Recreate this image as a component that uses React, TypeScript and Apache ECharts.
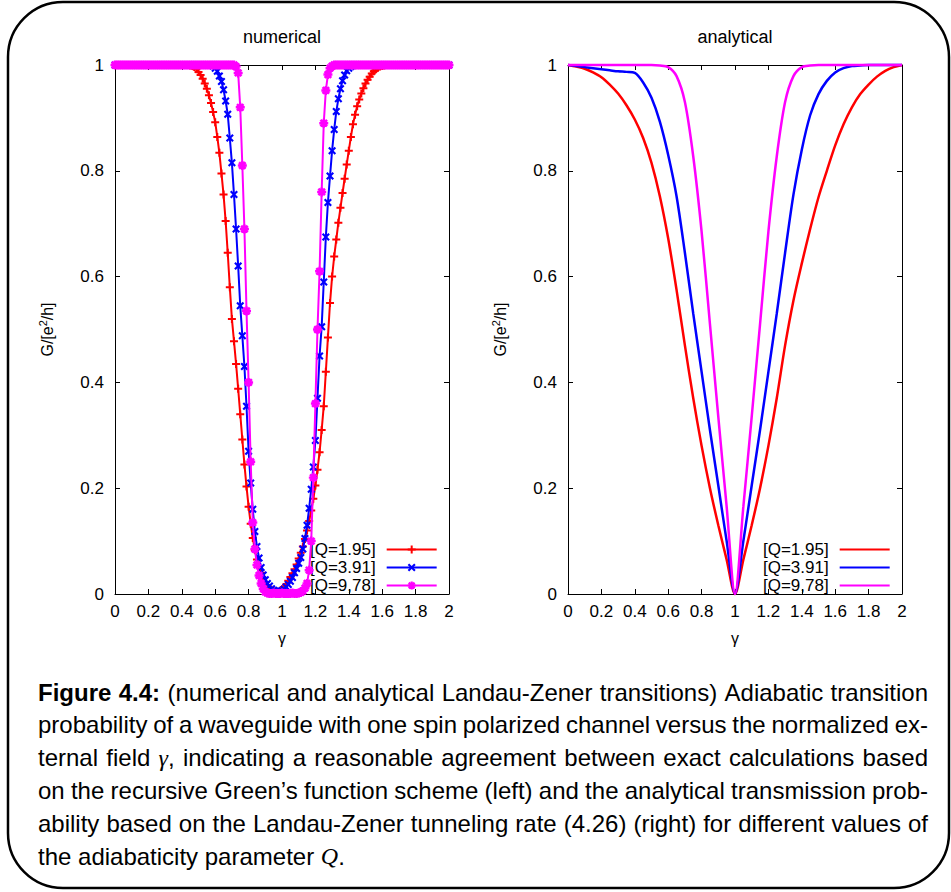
import { useEffect, useRef } from "react";
import * as echarts from "echarts";

const FONT = '"Liberation Sans", Arial, Helvetica, sans-serif';
const MATH_FONT = '"Liberation Serif", "DejaVu Serif", serif';

const PANEL_TITLES = ["numerical", "analytical"];
const Q_LABELS = ["[Q=1.95]", "[Q=3.91]", "[Q=9,78]"];
const SERIES_COLORS = ["#ff0000", "#0000ff", "#ff00ff"];
const X_AXIS_NAME = "γ";
const Y_AXIS_NAME = "{n|G/[e}{s|2}{n|/h]}";
const X_MIN = 0;
const X_MAX = 2;
const X_INTERVAL = 0.2;
const Y_MIN = 0;
const Y_MAX = 1;
const Y_INTERVAL = 0.2;

// Recursive Green's function results, one value every 0.0125 in γ (8 values per 0.1)
const NUM_STEP = 0.0125;
const NUM_Q195 = [
  1, 1, 1, 1, 1, 1, 1, 1,
  1, 1, 1, 1, 1, 1, 1, 1,
  1, 1, 1, 1, 1, 1, 1, 1,
  1, 1, 1, 1, 1, 1, 1, 1,
  1, 1, 1, 1, 0.999, 0.998, 0.996, 0.992,
  0.987, 0.981, 0.974, 0.965, 0.955, 0.943, 0.928, 0.911,
  0.892, 0.864, 0.834, 0.795, 0.755, 0.705, 0.645, 0.58,
  0.52, 0.478, 0.435, 0.388, 0.34, 0.292, 0.245, 0.203,
  0.165, 0.133, 0.106, 0.083, 0.065, 0.051, 0.04, 0.03,
  0.022, 0.016, 0.011, 0.008, 0.006, 0.004, 0.004, 0.006,
  0.009, 0.013, 0.018, 0.025, 0.032, 0.039, 0.047, 0.056,
  0.067, 0.078, 0.09, 0.104, 0.12, 0.138, 0.158, 0.18,
  0.205, 0.235, 0.268, 0.31, 0.355, 0.42, 0.485, 0.55,
  0.6, 0.638, 0.67, 0.702, 0.73, 0.758, 0.785, 0.812,
  0.838, 0.864, 0.888, 0.906, 0.922, 0.935, 0.946, 0.956,
  0.965, 0.972, 0.978, 0.984, 0.988, 0.992, 0.995, 0.997,
  0.998, 0.999, 1, 1, 1, 1, 1, 1,
  1, 1, 1, 1, 1, 1, 1, 1,
  1, 1, 1, 1, 1, 1, 1, 1,
  1, 1, 1, 1, 1, 1, 1, 1,
  1,
];
const NUM_Q391 = [
  1, 1, 1, 1, 1, 1, 1, 1,
  1, 1, 1, 1, 1, 1, 1, 1,
  1, 1, 1, 1, 1, 1, 1, 1,
  1, 1, 1, 1, 1, 1, 1, 1,
  1, 1, 1, 1, 1, 1, 1, 1,
  1, 1, 1, 1, 1, 1, 1, 0.998,
  0.994, 0.988, 0.979, 0.969, 0.953, 0.932, 0.907, 0.862,
  0.815, 0.755, 0.69, 0.62, 0.545, 0.488, 0.43, 0.355,
  0.27, 0.21, 0.16, 0.118, 0.09, 0.068, 0.05, 0.036,
  0.027, 0.02, 0.015, 0.01, 0.007, 0.005, 0.004, 0.005,
  0.006, 0.009, 0.013, 0.018, 0.024, 0.031, 0.04, 0.048,
  0.058, 0.069, 0.085, 0.105, 0.13, 0.162, 0.198, 0.24,
  0.29, 0.37, 0.45, 0.505, 0.59, 0.675, 0.74, 0.79,
  0.838, 0.878, 0.912, 0.936, 0.955, 0.97, 0.981, 0.989,
  0.994, 0.997, 0.999, 1, 1, 1, 1, 1,
  1, 1, 1, 1, 1, 1, 1, 1,
  1, 1, 1, 1, 1, 1, 1, 1,
  1, 1, 1, 1, 1, 1, 1, 1,
  1, 1, 1, 1, 1, 1, 1, 1,
  1, 1, 1, 1, 1, 1, 1, 1,
  1,
];
const NUM_Q978 = [
  1, 1, 1, 1, 1, 1, 1, 1,
  1, 1, 1, 1, 1, 1, 1, 1,
  1, 1, 1, 1, 1, 1, 1, 1,
  1, 1, 1, 1, 1, 1, 1, 1,
  1, 1, 1, 1, 1, 1, 1, 1,
  1, 1, 1, 1, 1, 1, 1, 1,
  1, 1, 1, 1, 1, 1, 1, 1,
  1, 1, 0.997, 0.985, 0.92, 0.81, 0.69, 0.535,
  0.4, 0.25, 0.135, 0.085, 0.055, 0.035, 0.02, 0.01,
  0.004, 0.002, 0.001, 0.001, 0.002, 0.001, 0.001, 0.001,
  0.002, 0.001, 0.001, 0.001, 0.001, 0.002, 0.001, 0.001,
  0.002, 0.003, 0.006, 0.011, 0.02, 0.045, 0.1, 0.22,
  0.36, 0.5, 0.61, 0.76, 0.89, 0.952, 0.982, 0.994,
  0.998, 1, 1, 1, 1, 1, 1, 1,
  1, 1, 1, 1, 1, 1, 1, 1,
  1, 1, 1, 1, 1, 1, 1, 1,
  1, 1, 1, 1, 1, 1, 1, 1,
  1, 1, 1, 1, 1, 1, 1, 1,
  1, 1, 1, 1, 1, 1, 1, 1,
  1, 1, 1, 1, 1, 1, 1, 1,
  1,
];

// Landau-Zener transmission, one value every 0.05 in γ (10 values per 0.5)
const ANA_STEP = 0.05;
const ANA_Q195 = [
  1, 0.997, 0.993, 0.986, 0.977, 0.963, 0.946, 0.924, 0.897, 0.862,
  0.815, 0.752, 0.672, 0.575, 0.47, 0.37, 0.28, 0.2, 0.13, 0.065,
  0, 0.065, 0.13, 0.2, 0.28, 0.37, 0.47, 0.555, 0.625, 0.69,
  0.75, 0.8, 0.848, 0.888, 0.92, 0.945, 0.963, 0.978, 0.989, 0.996,
  1,
];
const ANA_Q391 = [
  1, 0.998, 0.996, 0.994, 0.992, 0.99, 0.988, 0.987, 0.985, 0.967,
  0.938, 0.893, 0.83, 0.752, 0.645, 0.53, 0.42, 0.31, 0.205, 0.1,
  0, 0.1, 0.205, 0.31, 0.42, 0.53, 0.645, 0.755, 0.84, 0.905,
  0.945, 0.97, 0.986, 0.994, 0.998, 0.999, 1, 1, 1, 1,
  1,
];
const ANA_Q978 = [
  1, 1, 1, 1, 1, 1, 1, 1, 1, 1,
  1, 0.999, 0.996, 0.979, 0.93, 0.827, 0.685, 0.51, 0.335, 0.165,
  0, 0.165, 0.335, 0.51, 0.685, 0.827, 0.93, 0.979, 0.996, 0.999,
  1, 1, 1, 1, 1, 1, 1, 1, 1, 1,
  1,
];

const NUM_SETS = [NUM_Q195, NUM_Q391, NUM_Q978];
const ANA_SETS = [ANA_Q195, ANA_Q391, ANA_Q978];

// gnuplot-like point types: plus, cross, star
const NUM_SYMBOLS = [
  "path://M3,0H5V3H8V5H5V8H3V5H0V3H3Z",
  "path://M0,1.5L1.5,0L4,2.5L6.5,0L8,1.5L5.5,4L8,6.5L6.5,8L4,5.5L1.5,8L0,6.5L2.5,4Z",
  "path://M2.9,0H5.1V2.9H8V5.1H5.1V8H2.9V5.1H0V2.9H2.9Z M0.3,1.9L1.9,0.3L4,2.4L6.1,0.3L7.7,1.9L5.6,4L7.7,6.1L6.1,7.7L4,5.6L1.9,7.7L0.3,6.1L2.4,4Z",
];
const NUM_SYMBOL_SIZES = [8, 8, 9];

const CAPTION_LINES = [
  "*Figure* *4.4:* (numerical and analytical Landau-Zener transitions) Adiabatic transition",
  "probability of a waveguide with one spin polarized channel versus the normalized ex-",
  "ternal field _γ_, indicating a reasonable agreement between exact calculations based",
  "on the recursive Green’s function scheme (left) and the analytical transmission prob-",
  "ability based on the Landau-Zener tunneling rate (4.26) (right) for different values of",
  "the adiabaticity parameter _Q_.",
];

const TEXT_SIZE = 17;
const TITLE_SIZE = 18;
const CAPTION_SIZE = 24;
const CAPTION_LEFT = 38;
const CAPTION_RIGHT = 928;
const CAPTION_FIRST_Y = 692;
const CAPTION_LEADING = 32.8;

const GRIDS = [
  { left: 115, top: 65, width: 334, height: 529 },
  { left: 568, top: 65, width: 334, height: 529 },
];

function captionFont(kind: string) {
  if (kind === "b") return `bold ${CAPTION_SIZE}px ${FONT}`;
  if (kind === "i") return `italic ${CAPTION_SIZE}px ${MATH_FONT}`;
  return `${CAPTION_SIZE}px ${FONT}`;
}

// Lay the caption out word by word so that every line but the last is justified.
function captionElements() {
  const ctx = document.createElement("canvas").getContext("2d")!;
  const measure = (t: string, kind: string) => {
    ctx.font = captionFont(kind);
    return ctx.measureText(t).width;
  };
  const out: any[] = [];
  CAPTION_LINES.forEach((line, li) => {
    const words = line.split(" ").map((w) => {
      const segs: { t: string; k: string }[] = [];
      const re = /\*([^*]+)\*|_([^_]+)_|([^*_]+)/g;
      let m: RegExpExecArray | null;
      while ((m = re.exec(w))) {
        if (m[1]) segs.push({ t: m[1], k: "b" });
        else if (m[2]) segs.push({ t: m[2], k: "i" });
        else segs.push({ t: m[3], k: "n" });
      }
      const width = segs.reduce((s, sg) => s + measure(sg.t, sg.k), 0);
      return { segs, width };
    });
    const total = words.reduce((s, w) => s + w.width, 0);
    const isLast = li === CAPTION_LINES.length - 1;
    const gap = isLast
      ? measure(" ", "n")
      : (CAPTION_RIGHT - CAPTION_LEFT - total) / (words.length - 1);
    const y = CAPTION_FIRST_Y + li * CAPTION_LEADING;
    let x = CAPTION_LEFT;
    words.forEach((w) => {
      w.segs.forEach((sg) => {
        out.push({
          type: "text",
          x,
          y,
          silent: true,
          style: {
            text: sg.t,
            font: captionFont(sg.k),
            fill: "#000",
            align: "left",
            verticalAlign: "middle",
          },
        });
        x += measure(sg.t, sg.k);
      });
      x += gap;
    });
  });
  return out;
}

function buildOption() {
  const lineAxis = {
    type: "value",
    axisLine: { show: true, onZero: false, lineStyle: { color: "#000", width: 1 } },
    axisTick: { show: true, inside: true, length: 5, lineStyle: { color: "#000", width: 1 } },
    splitLine: { show: false },
  };
  const labelStyle = { color: "#000", fontSize: TEXT_SIZE, fontFamily: FONT };

  const xAxis: any[] = [];
  const yAxis: any[] = [];
  GRIDS.forEach((_, g) => {
    xAxis.push({
      ...lineAxis,
      gridIndex: g,
      position: "bottom",
      min: X_MIN,
      max: X_MAX,
      interval: X_INTERVAL,
      axisLabel: { ...labelStyle, margin: 9 },
      name: X_AXIS_NAME,
      nameLocation: "middle",
      nameGap: 36,
      nameTextStyle: { color: "#000", fontSize: TEXT_SIZE - 1, fontFamily: FONT },
    });
    xAxis.push({
      ...lineAxis,
      gridIndex: g,
      position: "top",
      min: X_MIN,
      max: X_MAX,
      interval: X_INTERVAL,
      axisLabel: { show: false },
    });
    yAxis.push({
      ...lineAxis,
      gridIndex: g,
      position: "left",
      min: Y_MIN,
      max: Y_MAX,
      interval: Y_INTERVAL,
      axisLabel: { ...labelStyle, margin: 11 },
      name: Y_AXIS_NAME,
      nameLocation: "middle",
      nameRotate: 90,
      nameGap: 58,
      nameTextStyle: {
        rich: {
          n: { fontSize: TEXT_SIZE - 1, fontFamily: FONT, color: "#000", lineHeight: 20 },
          s: { fontSize: 11, fontFamily: FONT, color: "#000", lineHeight: 12, verticalAlign: "top" },
        },
      },
    });
    yAxis.push({
      ...lineAxis,
      gridIndex: g,
      position: "right",
      min: Y_MIN,
      max: Y_MAX,
      interval: Y_INTERVAL,
      axisLabel: { show: false },
    });
  });

  const numNames = Q_LABELS.map((q) => `num ${q}`);
  const anaNames = Q_LABELS.map((q) => `ana ${q}`);

  const series: any[] = [];
  NUM_SETS.forEach((vals, i) => {
    series.push({
      type: "line",
      name: numNames[i],
      xAxisIndex: 0,
      yAxisIndex: 0,
      data: vals.map((g, k) => [k * NUM_STEP, g]),
      symbol: NUM_SYMBOLS[i],
      symbolSize: NUM_SYMBOL_SIZES[i],
      showSymbol: true,
      lineStyle: { color: SERIES_COLORS[i], width: 2 },
      itemStyle: { color: SERIES_COLORS[i] },
      clip: false,
      silent: true,
      z: 2 + i,
    });
  });
  ANA_SETS.forEach((vals, i) => {
    series.push({
      type: "line",
      name: anaNames[i],
      xAxisIndex: 2,
      yAxisIndex: 2,
      data: vals.map((g, k) => [k * ANA_STEP, g]),
      symbol: "none",
      smooth: 0.3,
      lineStyle: { color: SERIES_COLORS[i], width: 2.5 },
      itemStyle: { color: SERIES_COLORS[i] },
      clip: false,
      silent: true,
      z: 2 + i,
    });
  });

  const legendCommon = {
    orient: "vertical",
    align: "right",
    itemWidth: 50,
    itemHeight: 10,
    itemGap: 1,
    padding: 0,
    selectedMode: false,
    textStyle: { color: "#000", fontSize: TEXT_SIZE, fontFamily: FONT, padding: [0, 6, 0, 0] },
    formatter: (name: string) => name.slice(4),
  };

  return {
    animation: false,
    backgroundColor: "#fff",
    title: PANEL_TITLES.map((t, i) => ({
      text: t,
      left: GRIDS[i].left + GRIDS[i].width / 2,
      top: 28,
      textAlign: "center",
      padding: 0,
      textStyle: { color: "#000", fontSize: TITLE_SIZE, fontWeight: "normal", fontFamily: FONT },
    })),
    grid: GRIDS.map((g) => ({ ...g, containLabel: false, outerBoundsMode: "none" })),
    xAxis,
    yAxis,
    legend: [
      { ...legendCommon, data: numNames, left: 310, top: 541 },
      { ...legendCommon, data: anaNames, left: 763, top: 541, itemStyle: { opacity: 0 } },
    ],
    series,
    graphic: [
      {
        type: "rect",
        silent: true,
        shape: { x: 8, y: 2, width: 941, height: 886, r: 55 },
        style: { fill: "none", stroke: "#000", lineWidth: 2.5 },
      },
      ...captionElements(),
    ],
  };
}

export default function App() {
  const ref = useRef<HTMLDivElement>(null);
  useEffect(() => {
    if (!ref.current) return;
    const chart = echarts.init(ref.current, null, { renderer: "svg" });
    chart.setOption(buildOption() as any);
    return () => chart.dispose();
  }, []);
  return (
    <div
      ref={ref}
      style={{ position: "fixed", left: 0, top: 0, width: 951, height: 892, background: "#fff" }}
    />
  );
}
